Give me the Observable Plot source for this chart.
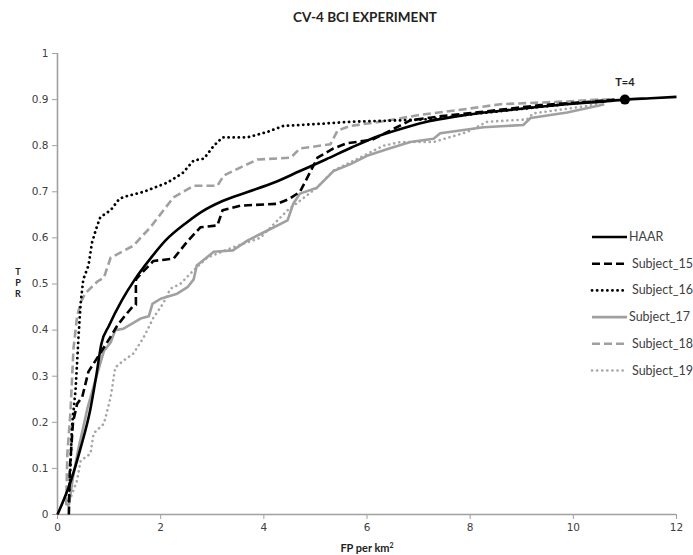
<!DOCTYPE html>
<html>
<head>
<meta charset="utf-8">
<script src="https://cdn.jsdelivr.net/npm/d3@7"></script>
<script src="https://cdn.jsdelivr.net/npm/@observablehq/plot@0.6"></script>
<style>
  html, body { margin: 0; padding: 0; background: #fff; }
  #wrap { position: relative; width: 693px; height: 555px; overflow: hidden; }
  #chart { position: absolute; left: 0; top: 0; }
  .title { position: absolute; left: 365px; top: 9px; transform: translateX(-50%); font: bold 13.5px Lato, "Open Sans", sans-serif; color: #222; white-space: nowrap; }
  .xlab { position: absolute; left: 367px; top: 541px; transform: translateX(-50%); font: bold 11px Lato, sans-serif; color: #222; white-space: nowrap; }
  .xlab sup { font-size: 7px; vertical-align: 4px; }
  .ylab { position: absolute; left: 13px; top: 266px; width: 10px; text-align: center; font: bold 9px Lato, sans-serif; line-height: 11px; color: #222; }
  #legend { position: absolute; left: 590px; top: 226px; }
</style>
</head>
<body>
<div id="wrap">
  <div id="chart"></div>
  <div class="title">CV-4 BCI EXPERIMENT</div>
  <div class="xlab">FP per km<sup>2</sup></div>
  <div class="ylab">T<br>P<br>R</div>
  <svg id="legend" width="110" height="160"></svg>
</div>
<script>
const xTicks = [0, 2, 4, 6, 8, 10, 12];
const yTicks = [0, 0.1, 0.2, 0.3, 0.4, 0.5, 0.6, 0.7, 0.8, 0.9, 1];
const seriesNames = ["HAAR", "Subject_15", "Subject_16", "Subject_17", "Subject_18", "Subject_19"];

const haar = [[0,0],[0.25,0.07],[0.45,0.145],[0.64,0.23],[0.75,0.3],[0.85,0.37],[1.0,0.41],[1.25,0.465],[1.5,0.51],[1.8,0.555],[2.1,0.595],[2.5,0.633],[2.8,0.657],[3.2,0.68],[3.7,0.7],[4.2,0.72],[4.7,0.745],[5.2,0.77],[5.7,0.796],[6.2,0.82],[6.7,0.838],[7.2,0.853],[7.7,0.863],[8.2,0.871],[8.8,0.878],[9.4,0.885],[10,0.891],[10.5,0.895],[11,0.9],[11.5,0.903],[12,0.906]];
const subject15 = [[0.22,0],[0.24,0.1],[0.3,0.2],[0.38,0.24],[0.48,0.255],[0.6,0.31],[0.83,0.35],[1.0,0.38],[1.16,0.41],[1.3,0.43],[1.45,0.45],[1.52,0.455],[1.52,0.51],[1.6,0.52],[1.86,0.55],[2.25,0.555],[2.5,0.59],[2.77,0.623],[3.1,0.627],[3.2,0.66],[3.55,0.67],[4.26,0.674],[4.5,0.685],[4.7,0.7],[4.84,0.73],[5.04,0.774],[5.35,0.794],[5.6,0.805],[6.1,0.813],[6.4,0.83],[6.84,0.855],[7.5,0.865],[8.2,0.873],[9.36,0.888],[10.3,0.895],[10.8,0.9]];
const subject16 = [[0.22,0.03],[0.25,0.1],[0.28,0.19],[0.35,0.27],[0.41,0.39],[0.45,0.46],[0.5,0.51],[0.6,0.54],[0.67,0.59],[0.75,0.62],[0.83,0.645],[1.03,0.66],[1.2,0.685],[1.32,0.69],[1.67,0.7],[2.13,0.72],[2.42,0.74],[2.64,0.768],[2.84,0.772],[3.03,0.8],[3.2,0.818],[3.68,0.818],[4.07,0.83],[4.38,0.843],[5.03,0.847],[5.68,0.852],[6.65,0.855],[7.3,0.858],[8,0.868],[9,0.88],[10,0.892],[10.6,0.897]];
const subject17 = [[0.22,0.02],[0.3,0.08],[0.4,0.14],[0.5,0.19],[0.58,0.23],[0.77,0.305],[0.9,0.355],[1.03,0.373],[1.12,0.4],[1.28,0.403],[1.61,0.425],[1.77,0.43],[1.84,0.457],[2.0,0.468],[2.32,0.479],[2.52,0.493],[2.64,0.51],[2.7,0.54],[3.03,0.57],[3.4,0.573],[3.68,0.594],[4.07,0.616],[4.46,0.638],[4.57,0.674],[4.7,0.696],[5.03,0.709],[5.35,0.745],[5.68,0.76],[6.0,0.778],[6.4,0.793],[6.84,0.808],[7.29,0.815],[7.42,0.827],[8.26,0.84],[9.03,0.845],[9.17,0.86],[9.88,0.872],[10.5,0.887],[10.6,0.89]];
const subject18 = [[0.17,0.02],[0.19,0.13],[0.25,0.22],[0.31,0.36],[0.38,0.43],[0.45,0.46],[0.54,0.48],[0.77,0.505],[0.9,0.514],[1.03,0.557],[1.47,0.583],[1.8,0.623],[2.25,0.688],[2.64,0.713],[3.1,0.713],[3.22,0.735],[3.55,0.753],[3.88,0.77],[4.52,0.774],[4.7,0.794],[5.29,0.803],[5.43,0.833],[5.68,0.843],[6.32,0.853],[6.98,0.866],[7.95,0.88],[8.59,0.89],[9.88,0.896],[10.5,0.9],[10.7,0.9]];
const subject19 = [[0.2,0.02],[0.38,0.074],[0.45,0.117],[0.64,0.132],[0.7,0.176],[0.9,0.197],[1.03,0.254],[1.12,0.319],[1.28,0.334],[1.47,0.349],[1.67,0.384],[1.86,0.427],[2.05,0.458],[2.19,0.49],[2.38,0.5],[2.64,0.53],[2.9,0.557],[3.41,0.58],[3.93,0.6],[4.46,0.66],[5.03,0.709],[5.35,0.746],[5.68,0.764],[6.32,0.8],[6.65,0.808],[7.29,0.808],[7.95,0.83],[8.33,0.852],[9.1,0.857],[9.22,0.87],[10.2,0.885],[10.5,0.892]];
const marker = [[11, 0.9]];
const markerLabel = "T=4";

const styles = {
  HAAR:       {stroke: "#000", strokeWidth: 2.6, dash: null, cap: "butt"},
  Subject_15: {stroke: "#000", strokeWidth: 2.6, dash: "8,4", cap: "butt"},
  Subject_16: {stroke: "#000", strokeWidth: 2.8, dash: "0.1,5", cap: "round"},
  Subject_17: {stroke: "#a0a0a0", strokeWidth: 2.6, dash: null, cap: "butt"},
  Subject_18: {stroke: "#a0a0a0", strokeWidth: 2.6, dash: "8,4", cap: "butt"},
  Subject_19: {stroke: "#a6a6a6", strokeWidth: 2.6, dash: "0.1,5", cap: "round"}
};
const dataByName = {HAAR: haar, Subject_15: subject15, Subject_16: subject16, Subject_17: subject17, Subject_18: subject18, Subject_19: subject19};

function lineMark(name) {
  const s = styles[name];
  return Plot.line(dataByName[name], {
    x: d => d[0], y: d => d[1],
    stroke: s.stroke, strokeWidth: s.strokeWidth,
    strokeDasharray: s.dash || undefined, strokeLinecap: s.cap,
    strokeLinejoin: "round",
    curve: name === "HAAR" ? "monotone-x" : "linear"
  });
}

const drawOrder = ["Subject_19", "Subject_18", "Subject_17", "Subject_16", "Subject_15", "HAAR"];

const plot = Plot.plot({
  width: 693, height: 555,
  marginTop: 53, marginBottom: 41, marginLeft: 57, marginRight: 17,
  style: {fontFamily: "'DejaVu Sans', Verdana, sans-serif", fontSize: "10.5px", background: "transparent", overflow: "visible"},
  x: {domain: [0, 12]},
  y: {domain: [0, 1]},
  marks: [
    Plot.axisX({ticks: xTicks, tickSize: 5, tickPadding: 4, stroke: "#a0a0a0", fill: "#404040", label: null, tickFormat: d => String(d)}),
    Plot.axisY({ticks: yTicks, tickSize: 5, tickPadding: 4, stroke: "#a0a0a0", fill: "#404040", label: null, tickFormat: d => String(d)}),
    Plot.ruleY([0], {stroke: "#a0a0a0", strokeWidth: 1.6}),
    Plot.ruleX([0], {stroke: "#a0a0a0", strokeWidth: 1.6}),
    ...drawOrder.map(lineMark),
    Plot.dot(marker, {x: d => d[0], y: d => d[1], r: 5, fill: "#000"}),
    Plot.text(marker, {x: d => d[0], y: d => d[1], text: () => markerLabel, dy: -17, fontWeight: "bold", fontFamily: "Lato, sans-serif", fontSize: 11, fill: "#222"})
  ]
});
document.getElementById("chart").appendChild(plot);

// legend
const lg = d3.select("#legend");
seriesNames.forEach((name, i) => {
  const s = styles[name];
  const y = 11 + i * 26.7;
  lg.append("line").attr("x1", 2).attr("x2", 37).attr("y1", y).attr("y2", y)
    .attr("stroke", s.stroke).attr("stroke-width", s.strokeWidth)
    .attr("stroke-dasharray", s.dash || null).attr("stroke-linecap", s.cap);
  lg.append("text").attr("x", name === "HAAR" || name === "Subject_17" ? 39 : 42).attr("y", y + 4)
    .attr("font-family", "Lato, sans-serif").attr("font-size", 12.5).attr("fill", "#404040").text(name);
});
</script>
</body>
</html>
